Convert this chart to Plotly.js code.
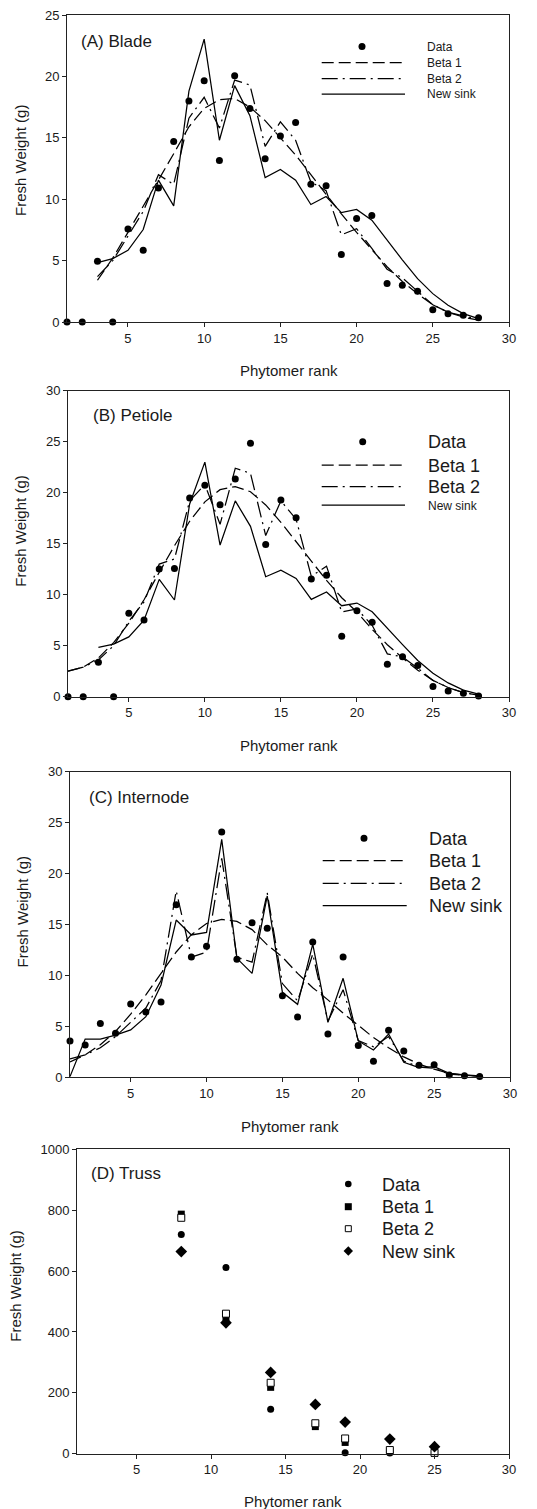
<!DOCTYPE html>
<html><head><meta charset="utf-8">
<script src="https://cdn.plot.ly/plotly-3.0.1.min.js"></script>
<style>html,body{margin:0;padding:0;background:#fff;} #chart{width:537px;height:1509px;}</style>
</head><body><div id="chart"></div>
<script>
// ---------- DATA ----------
const rankAll = [1,2,3,4,5,6,7,8,9,10,11,12,13,14,15,16,17,18,19,20,21,22,23,24,25,26,27,28];
const rankFrom3 = [3,4,5,6,7,8,9,10,11,12,13,14,15,16,17,18,19,20,21,22,23,24,25,26,27,28];

// (A) Blade
const bladeData    = [0,0,4.95,0,7.58,5.84,10.92,14.70,17.99,19.65,13.15,20.05,17.39,13.29,15.14,16.25,11.22,11.09,5.49,8.42,8.67,3.13,2.99,2.50,1.00,0.68,0.54,0.35];
const bladeBeta1   = [3.4,5.2,7.3,9.4,11.6,13.7,15.9,17.4,18.1,18.2,17.5,16.4,15.0,13.6,12.0,10.4,8.8,7.3,5.9,4.5,3.3,2.3,1.4,0.8,0.4,0.15];
const bladeBeta2   = [3.7,5.0,7.0,9.0,12.0,11.2,16.6,18.3,15.8,19.7,19.3,14.3,16.3,14.8,11.4,10.7,7.1,7.6,6.0,4.3,3.6,2.5,1.4,0.8,0.5,0.2];
const bladeNewSink = [4.84,5.16,5.84,7.53,11.55,9.46,18.8,23.04,14.8,19.25,16.8,11.76,12.42,11.55,9.57,10.22,8.91,9.17,8.29,6.66,5.06,3.53,2.31,1.36,0.68,0.27];

// (B) Petiole
const petioleData    = [0,0,3.37,0,8.17,7.52,12.52,12.58,19.48,20.72,18.82,21.34,24.84,14.93,19.28,17.55,11.54,11.9,5.92,8.43,7.29,3.17,3.92,3.07,1.01,0.56,0.33,0.07];
const petioleBeta1   = [2.5,2.9,3.8,5.3,7.2,9.5,12.2,14.8,17.2,19.1,20.3,20.6,20.1,18.8,17.1,15.2,13.2,11.4,9.7,8.3,6.6,5.1,3.8,2.6,1.6,0.9,0.4,0.15];
const petioleBeta2   = [2.5,2.9,3.6,5.0,7.4,9.3,13.0,13.5,19.2,20.8,16.9,22.4,21.9,15.8,19.2,17.4,11.8,12.8,8.3,8.6,7.0,4.2,3.9,2.8,1.6,0.9,0.4,0.15];
const petioleNewSink = [4.84,5.16,5.86,7.5,11.5,9.48,18.9,23.0,14.87,19.2,16.7,11.76,12.4,11.6,9.54,10.26,8.92,9.18,8.33,6.7,5.1,3.55,2.3,1.35,0.65,0.25];

// (C) Internode
const internodeData    = [3.57,3.17,5.27,4.32,7.2,6.41,7.39,16.94,11.81,12.86,24.08,11.58,15.18,14.62,8.01,5.92,13.28,4.25,11.81,3.11,1.57,4.61,2.58,1.18,1.24,0.23,0.16,0.07];
const internodeBeta1   = [1.5,2.2,3.2,4.5,6.2,8.1,10.2,12.3,14.0,15.1,15.5,15.3,14.5,13.0,11.8,10.2,8.8,7.6,6.3,5.1,3.9,2.9,2.0,1.3,0.8,0.4,0.2,0.1];
const internodeBeta2   = [1.8,2.2,2.9,4.0,5.4,6.8,9.5,18.3,11.8,12.3,21.5,11.8,11.3,18.1,9.2,7.5,12.1,5.5,8.6,3.6,3.0,4.0,1.6,1.0,0.9,0.3,0.2,0.1];
const internodeNewSink = [0.07,3.76,3.76,4.15,4.65,5.95,9.06,15.44,13.97,14.23,23.36,11.68,10.2,17.8,8.34,7.16,13.08,5.4,9.72,3.57,2.68,4.25,1.47,0.95,1.05,0.39,0.23,0.13];

// (D) Truss
const trussRank     = [8,11,14,17,19,22,25];
const trussDataRank = [8,11,14,19,22];
const trussData     = [720,612,146,3,2];
const trussBeta1    = [787,439,218,89,37,7,1];
const trussBeta2    = [775,460,233,100,50,12,3];
const trussNewSink  = [664,430,267,162,104,48,23];

const seriesNames = ['Data','Beta 1','Beta 2','New sink'];
const panelTitles = ['(A) Blade','(B) Petiole','(C) Internode','(D) Truss'];
const xTitle = 'Phytomer rank';
const yTitle = 'Fresh Weight (g)';
const xTicks = [5,10,15,20,25,30];
const yTicksA = [0,5,10,15,20,25];
const yTicksBC = [0,5,10,15,20,25,30];
const yTicksD = [0,200,400,600,800,1000];

// ---------- STYLE / LAYOUT ----------
const W = 537, H = 1509;
const FONT = '"Liberation Sans", Arial, Helvetica, sans-serif';
const TXT = '#1a1a1a';
const px = x => x / W;
const py = y => 1 - y / H;
const DASH1 = '12px,5px';
const DASH2 = '16px,5px,2px,5px';
const LW = 1.25;

function lineTrace(x, y, n, dash) {
  return {x, y, xaxis: 'x' + n, yaxis: 'y' + n, type: 'scatter', mode: 'lines',
    line: {color: '#000', width: LW, dash}, showlegend: false, hoverinfo: 'skip'};
}
function markTrace(x, y, n, symbol, size, color, lineColor) {
  return {x, y, xaxis: 'x' + n, yaxis: 'y' + n, type: 'scatter', mode: 'markers',
    cliponaxis: false,
    marker: {symbol, size, color, line: {color: lineColor || '#000', width: lineColor ? 1 : 0}},
    showlegend: false, hoverinfo: 'skip'};
}

const traces = [
  lineTrace(rankFrom3, bladeBeta1, '', DASH1),
  lineTrace(rankFrom3, bladeBeta2, '', DASH2),
  lineTrace(rankFrom3, bladeNewSink, '', 'solid'),
  markTrace(rankAll, bladeData, '', 'circle', 7, '#000'),

  lineTrace(rankAll, petioleBeta1, '2', DASH1),
  lineTrace(rankAll, petioleBeta2, '2', DASH2),
  lineTrace(rankFrom3, petioleNewSink, '2', 'solid'),
  markTrace(rankAll, petioleData, '2', 'circle', 7, '#000'),

  lineTrace(rankAll, internodeBeta1, '3', DASH1),
  lineTrace(rankAll, internodeBeta2, '3', DASH2),
  lineTrace(rankAll, internodeNewSink, '3', 'solid'),
  markTrace(rankAll, internodeData, '3', 'circle', 7, '#000'),

  markTrace(trussDataRank, trussData, '4', 'circle', 7, '#000'),
  markTrace(trussRank, trussBeta1, '4', 'square', 7, '#000'),
  markTrace(trussRank, trussBeta2, '4', 'square', 7, '#fff', '#000'),
  markTrace(trussRank, trussNewSink, '4', 'diamond', 9, '#000'),
];

// panel boxes in pixels: [left, right, top, bottom]
const boxes = [
  [67, 509, 15, 322],
  [68, 509, 390.7, 696.7],
  [70, 510, 771.7, 1077.3],
  [77, 509, 1149.3, 1453.7]
];
const yRanges = [[0,25],[0,30],[0,30],[0,1000]];
const yTickSets = [yTicksA, yTicksBC, yTicksBC, yTicksD];

const layout = {
  width: W, height: H,
  margin: {l: 0, r: 0, t: 0, b: 0},
  paper_bgcolor: '#fff', plot_bgcolor: '#fff',
  font: {family: FONT, color: TXT},
  showlegend: false,
  shapes: [], annotations: []
};

const axisCommon = {
  showline: true, mirror: true, linecolor: '#222', linewidth: 1,
  ticks: 'outside', ticklen: 4, tickwidth: 1, tickcolor: '#222',
  showgrid: false, zeroline: false, fixedrange: true,
  tickfont: {family: FONT, size: 13, color: TXT}
};

boxes.forEach((b, i) => {
  const n = i === 0 ? '' : String(i + 1);
  layout['xaxis' + n] = Object.assign({}, axisCommon, {
    domain: [px(b[0]), px(b[1])], anchor: 'y' + n, range: [1, 30],
    tickmode: 'array', tickvals: xTicks
  });
  layout['yaxis' + n] = Object.assign({}, axisCommon, {
    domain: [py(b[3]), py(b[2])], anchor: 'x' + n, range: yRanges[i],
    tickmode: 'array', tickvals: yTickSets[i]
  });
});

function ann(text, x, y, size, opts) {
  layout.annotations.push(Object.assign({
    text, x: px(x), y: py(y), xref: 'paper', yref: 'paper', showarrow: false,
    xanchor: 'left', yanchor: 'middle', font: {family: FONT, size, color: TXT}
  }, opts || {}));
}

// panel titles
const titlePos = [[79.3, 41.3], [90.7, 415], [87.3, 797.3], [89.3, 1173.3]];
panelTitles.forEach((t, i) => ann(t, titlePos[i][0], titlePos[i][1], 17));

// axis titles
const yTitlePos = [[20, 161], [21, 531.7], [22.7, 911.7], [16, 1286.7]];
const xTitlePos = [[289, 370.7], [289, 745], [290, 1126], [293, 1501.7]];
for (let i = 0; i < 4; i++) {
  ann(yTitle, yTitlePos[i][0], yTitlePos[i][1], 15, {textangle: -90, xanchor: 'center'});
  ann(xTitle, xTitlePos[i][0], xTitlePos[i][1], 15, {xanchor: 'center'});
}

// legends (drawn as shapes + text)
function dotShape(x, y, r, kind) {
  const base = {xref: 'paper', yref: 'paper', xsizemode: 'pixel', ysizemode: 'pixel',
    xanchor: px(x), yanchor: py(y)};
  if (kind === 'circle') {
    layout.shapes.push(Object.assign(base, {type: 'circle', x0: -r, x1: r, y0: -r, y1: r,
      fillcolor: '#000', line: {width: 0}}));
  } else if (kind === 'square') {
    layout.shapes.push(Object.assign(base, {type: 'rect', x0: -r, x1: r, y0: -r, y1: r,
      fillcolor: '#000', line: {width: 0}}));
  } else if (kind === 'open') {
    layout.shapes.push(Object.assign(base, {type: 'rect', x0: -r + 0.5, x1: r - 0.5, y0: -r + 0.5, y1: r - 0.5,
      fillcolor: '#fff', line: {width: 1, color: '#000'}}));
  } else if (kind === 'diamond') {
    const d = r * 1.35;
    layout.shapes.push(Object.assign(base, {type: 'path',
      path: `M ${-d} 0 L 0 ${d} L ${d} 0 L 0 ${-d} Z`, fillcolor: '#000', line: {width: 0}}));
  }
}
function lineSample(x0, x1, y, dash) {
  layout.shapes.push({type: 'line', xref: 'paper', yref: 'paper',
    x0: px(x0), x1: px(x1), y0: py(y), y1: py(y), line: {color: '#000', width: LW, dash}});
}

const lineLegends = [
  {marker: 362, l0: 321.7, l1: 405, tx: 425, ys: [46.5, 62.5, 78.5, 94], sizes: [12, 12, 12, 12]},
  {marker: 362.7, l0: 321.7, l1: 405, tx: 426, ys: [441.7, 465, 486.7, 505], sizes: [18, 18, 18, 12]},
  {marker: 364, l0: 322.7, l1: 406.7, tx: 426.7, ys: [838.3, 860.7, 883.3, 905.7], sizes: [18, 18, 18, 18]}
];
lineLegends.forEach(L => {
  dotShape(L.marker, L.ys[0], 3.5, 'circle');
  lineSample(L.l0, L.l1, L.ys[1], DASH1);
  lineSample(L.l0, L.l1, L.ys[2], DASH2);
  lineSample(L.l0, L.l1, L.ys[3], 'solid');
  seriesNames.forEach((s, k) => ann(s, L.tx, L.ys[k] + 0.5, L.sizes[k]));
});
// truss legend
const dYs = [1184, 1206.7, 1228.7, 1251];
dotShape(348.3, dYs[0], 3.3, 'circle');
dotShape(348.3, dYs[1], 3.5, 'square');
dotShape(348.3, dYs[2], 3.5, 'open');
dotShape(348.3, dYs[3], 3.5, 'diamond');
seriesNames.forEach((s, k) => ann(s, 380, dYs[k] + 0.5, 18));

Plotly.newPlot('chart', traces, layout, {staticPlot: true, displayModeBar: false});
</script>
</body></html>
